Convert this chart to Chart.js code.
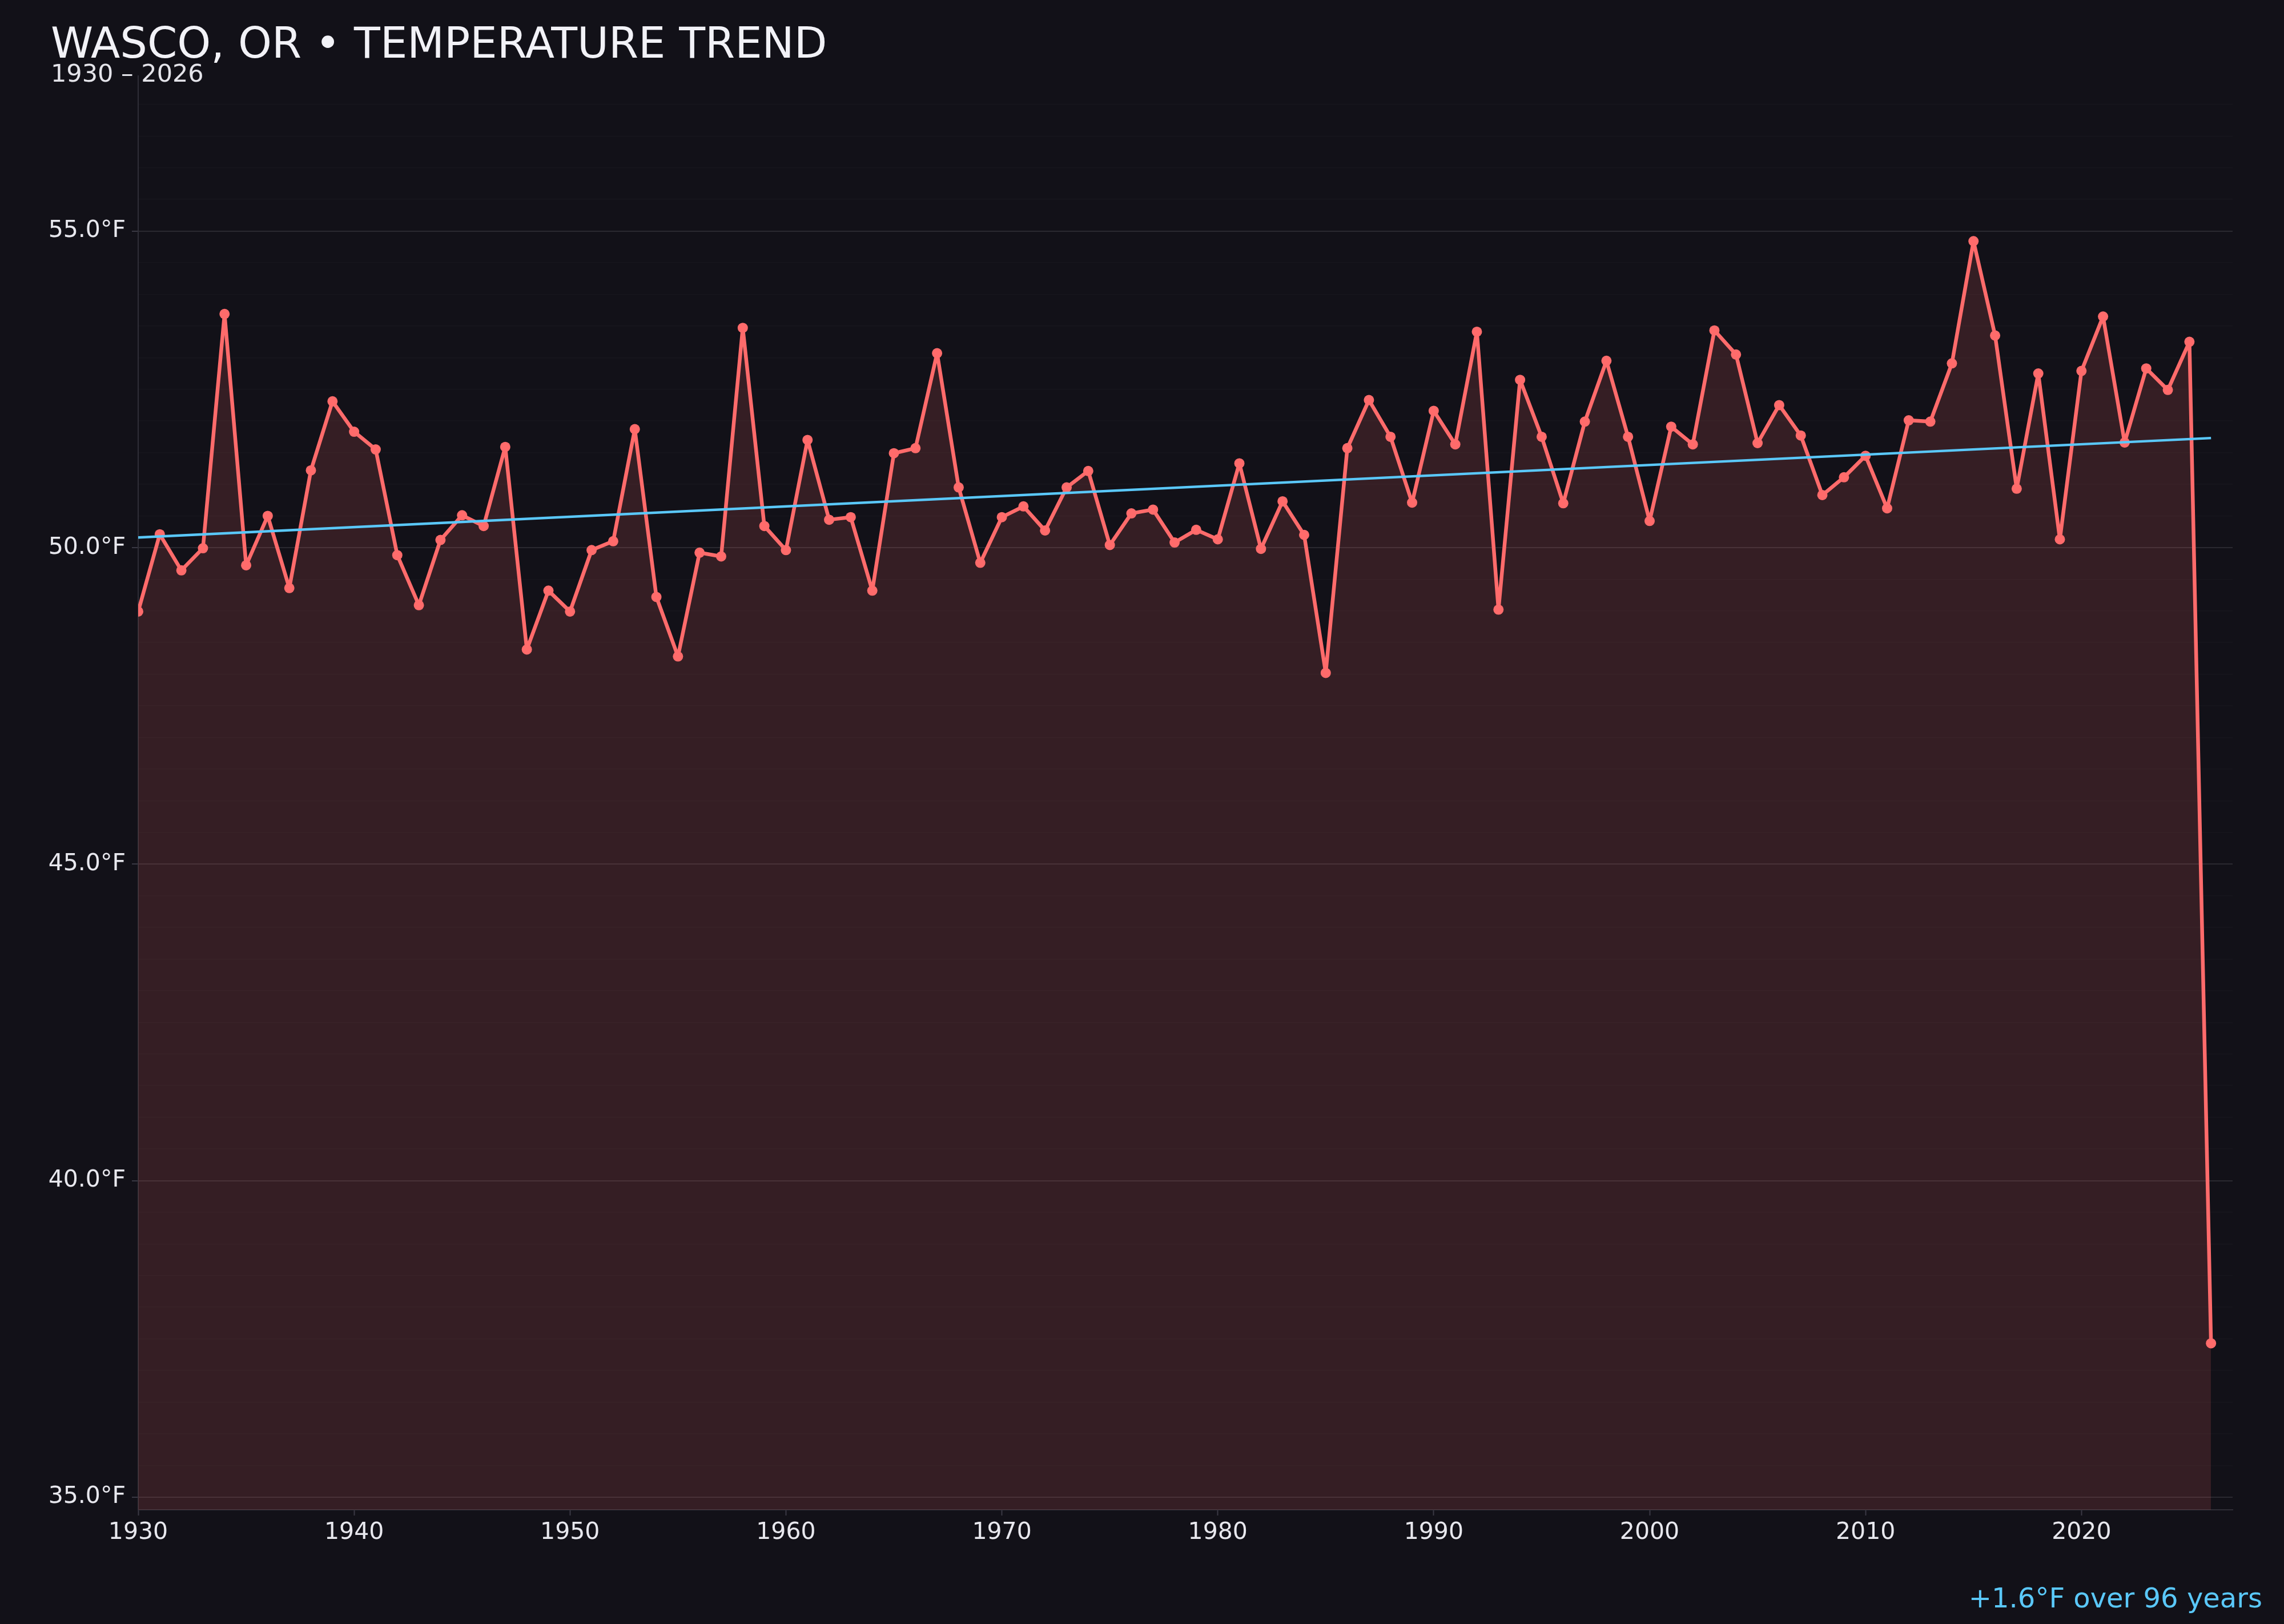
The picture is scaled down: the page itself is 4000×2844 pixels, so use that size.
<!DOCTYPE html>
<html>
<head>
<meta charset="utf-8">
<title>Wasco, OR temperature trend</title>
<script src="https://cdn.jsdelivr.net/npm/chart.js@4.4.0/dist/chart.umd.min.js"></script>
<style>
  html, body { margin: 0; padding: 0; background: #121118; }
  body { width: 4000px; height: 2844px; position: relative; overflow: hidden; font-family: "DejaVu Sans", sans-serif; }
  #chart { position: absolute; left: 0; top: 0; }
  .txt { position: absolute; white-space: nowrap; line-height: 1; }
  #title { left: 89px; top: 38px; font-size: 75px; color: #f2f2f7; }
  #subtitle { left: 89px; top: 107px; font-size: 43px; color: #e4e4ea; }
  #note { right: 38px; top: 2774px; font-size: 48px; color: #5ac8fa; }
</style>
</head>
<body>
<canvas id="chart" width="4000" height="2844"></canvas>
<div class="txt" id="title">WASCO, OR • TEMPERATURE TREND</div>
<div class="txt" id="subtitle">1930 – 2026</div>
<div class="txt" id="note">+1.6°F over 96 years</div>
<script>
// yearly mean temperature
const years = [
  1930, 1931, 1932, 1933, 1934, 1935, 1936, 1937, 1938, 1939,
  1940, 1941, 1942, 1943, 1944, 1945, 1946, 1947, 1948, 1949,
  1950, 1951, 1952, 1953, 1954, 1955, 1956, 1957, 1958, 1959,
  1960, 1961, 1962, 1963, 1964, 1965, 1966, 1967, 1968, 1969,
  1970, 1971, 1972, 1973, 1974, 1975, 1976, 1977, 1978, 1979,
  1980, 1981, 1982, 1983, 1984, 1985, 1986, 1987, 1988, 1989,
  1990, 1991, 1992, 1993, 1994, 1995, 1996, 1997, 1998, 1999,
  2000, 2001, 2002, 2003, 2004, 2005, 2006, 2007, 2008, 2009,
  2010, 2011, 2012, 2013, 2014, 2015, 2016, 2017, 2018, 2019,
  2020, 2021, 2022, 2023, 2024, 2025, 2026
];
const temps = [
  48.99, 50.21, 49.64, 49.99, 53.69, 49.72, 50.50, 49.36, 51.22, 52.31,
  51.83, 51.55, 49.88, 49.09, 50.12, 50.51, 50.34, 51.59, 48.39, 49.32,
  48.99, 49.96, 50.10, 51.87, 49.22, 48.28, 49.92, 49.86, 53.47, 50.34,
  49.96, 51.70, 50.44, 50.48, 49.32, 51.49, 51.57, 53.07, 50.95, 49.76,
  50.48, 50.65, 50.27, 50.95, 51.21, 50.04, 50.54, 50.60, 50.08, 50.28,
  50.13, 51.33, 49.98, 50.73, 50.20, 48.02, 51.57, 52.33, 51.75, 50.71,
  52.16, 51.63, 53.41, 49.02, 52.65, 51.75, 50.70, 51.99, 52.95, 51.75,
  50.42, 51.91, 51.63, 53.43, 53.05, 51.65, 52.25, 51.77, 50.83, 51.11,
  51.45, 50.62, 52.01, 51.99, 52.91, 54.84, 53.35, 50.93, 52.75, 50.13,
  52.79, 53.65, 51.66, 52.83, 52.49, 53.25, 37.43
];
// trend line end points
const trendYears = [1930, 2026];
const trendTemps = [50.16, 51.73];

const xTickYears = [1930, 1940, 1950, 1960, 1970, 1980, 1990, 2000, 2010, 2020];
const yLabelTicks = [35, 40, 45, 50, 55];
const yGridStep = 0.5;

function isMajor(v) {
    return yLabelTicks.some(t => Math.abs(t - v) < 1e-6);
}

const ctx = document.getElementById('chart').getContext('2d');
const chart = new Chart(ctx, {
    type: 'line',
    data: {
	datasets: [
	    {
		label: 'Trend',
		data: trendYears.map((y, i) => ({x: y, y: trendTemps[i]})),
		borderColor: '#5ac8fa',
		borderWidth: 4.5,
		pointRadius: 0,
		fill: false,
		order: 0
	    },
	    {
		label: 'Annual mean',
		data: years.map((y, i) => ({x: y, y: temps[i]})),
		borderColor: '#ff6b6b',
		backgroundColor: 'rgba(255, 107, 107, 0.15)',
		fill: 'start',
		borderWidth: 6.5,
		borderJoinStyle: 'round',
		borderCapStyle: 'round',
		tension: 0,
		pointRadius: 9,
		pointBackgroundColor: '#ff6b6b',
		pointBorderWidth: 0,
		order: 1
	    }
	]
    },
    options: {
	responsive: false,
	animation: false,
	devicePixelRatio: 1,
	layout: {
	    padding: {top: 133, right: 90, bottom: 0, left: 0}
	},
	plugins: {
	    legend: {display: false},
	    tooltip: {enabled: false},
	    title: {display: false}
	},
	scales: {
	    x: {
		type: 'linear',
		min: 1930,
		max: 2027,
		afterBuildTicks: (scale) => {
		    scale.ticks = xTickYears.map(v => ({value: v}));
		},
		afterFit: (scale) => {
		    scale.height = 200;
		},
		grid: {
		    drawOnChartArea: false,
		    drawTicks: true,
		    tickLength: 10,
		    tickColor: '#3a3944',
		    tickWidth: 2
		},
		border: {display: true, color: '#2f2e37', width: 2},
		ticks: {
		    color: '#e8e8ee',
		    font: {family: 'DejaVu Sans', size: 41},
		    padding: 6,
		    maxRotation: 0,
		    autoSkip: false,
		    callback: (v) => String(v)
		}
	    },
	    y: {
		type: 'linear',
		min: 34.8,
		max: 57.45,
		afterBuildTicks: (scale) => {
		    const t = [];
		    for (let v = 35; v <= 57.001; v += yGridStep)
			t.push({value: Math.round(v * 10) / 10});
		    scale.ticks = t;
		},
		afterFit: (scale) => {
		    scale.width = 242;
		},
		grid: {
		    color: (c) => isMajor(c.tick.value) ? '#2a2930' : '#17161d',
		    lineWidth: (c) => isMajor(c.tick.value) ? 2 : 1.5,
		    drawTicks: true,
		    tickLength: 11,
		    tickColor: (c) => isMajor(c.tick.value) ? '#3a3944' : 'rgba(0,0,0,0)'
		},
		border: {display: true, color: '#2f2e37', width: 2},
		ticks: {
		    color: '#e8e8ee',
		    font: {family: 'DejaVu Sans', size: 41},
		    padding: 11,
		    autoSkip: false,
		    callback: (v) => isMajor(v) ? v.toFixed(1) + '°F' : ''
		}
	    }
	}
    }
});
</script>
</body>
</html>
